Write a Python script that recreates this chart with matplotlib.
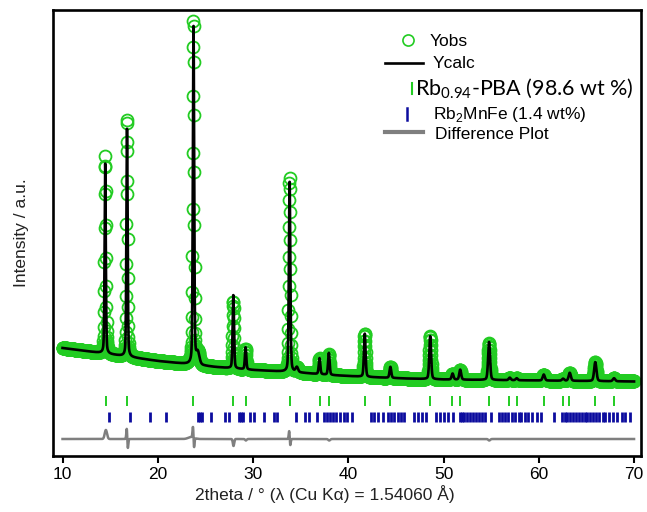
import numpy as np
import matplotlib
matplotlib.use("Agg")
import matplotlib.pyplot as plt
from matplotlib.lines import Line2D

# ---------------- data ----------------
# two-theta range of the measurement
two_theta_start, two_theta_end, two_theta_step = 10.0, 70.0, 0.02

# background level (2theta, intensity a.u.)
bg_x = [10, 14, 20, 23, 26, 30, 34, 38, 42, 46, 50, 55, 60, 65, 70]
bg_y = [108, 103, 95, 92, 89, 86, 84, 81, 79, 77.5, 76.5, 76, 75.5, 75, 74.5]

# calculated reflections: position, height above background, FWHM
peak_pos = [14.48, 16.77, 23.75, 24.2, 27.93, 29.22, 33.84, 34.6, 36.98, 37.96,
            41.73, 44.42, 48.60, 50.95, 51.75, 54.78, 56.95, 57.68, 60.52, 62.55,
            63.25, 65.93, 67.90]
peak_amp = [190, 231, 342, 12, 74, 22, 190, 5, 16, 22,
            43.5, 11, 43, 6, 10, 38, 2.5, 2, 6, 2,
            8, 19, 3]
peak_fwhm = [0.15, 0.15, 0.16, 0.4, 0.17, 0.17, 0.18, 0.3, 0.19, 0.19,
             0.2, 0.21, 0.22, 0.23, 0.23, 0.24, 0.25, 0.25, 0.26, 0.27,
             0.27, 0.28, 0.29]
lorentz_fraction = 0.3

# misfit (Yobs - Ycalc) features: position, symmetric part, antisymmetric part, width
res_pos = [14.55, 16.8, 23.5, 23.75, 27.95, 29.25, 33.85, 38.0, 54.8]
res_sym = [9, 1.0, 2.0, 1.0, -7, -1.5, 1.5, -1.5, -1.5]
res_anti = [0, 9.5, 0, 10.0, 0, 0, 7.0, 0, 0]
res_width = [0.12, 0.06, 0.3, 0.06, 0.07, 0.08, 0.06, 0.1, 0.1]
diff_offset = 17

# Bragg reflection markers
pba_ticks = [14.58, 16.77, 23.75, 27.94, 29.24, 33.84, 36.98, 37.96, 41.73, 44.42,
             48.60, 50.94, 51.75, 54.78, 56.90, 57.68, 60.50, 62.50, 63.20, 65.88,
             67.87]
rb2mnfe_ticks = [14.85, 17.1, 19.2, 20.9, 24.2, 24.4, 24.65, 25.6, 27.1, 27.5,
                 28.5, 28.7, 28.9, 29.7, 30.1, 31.1, 32.2, 32.5, 34.5, 35.5,
                 35.9, 36.7, 37.5, 37.8, 38.1, 38.4, 38.7, 39.1, 39.5, 39.9,
                 40.4, 42.4, 42.7, 43.1, 43.6, 44.2, 44.5, 44.8, 45.2, 45.5,
                 45.9, 46.9, 47.3, 47.7, 48.2, 49.2, 49.6, 50.0, 50.5, 51.0,
                 51.7, 51.9, 52.2, 52.5, 52.8, 53.1, 53.4, 53.7, 54.0, 54.4,
                 55.0, 55.8, 56.1, 56.4, 56.8, 57.2, 57.5, 57.9, 58.1, 58.6,
                 58.9, 59.3, 59.8, 60.2, 61.6, 62.4, 62.7, 63.0, 63.3, 63.6,
                 63.9, 64.2, 64.5, 64.8, 65.1, 65.4, 65.7, 66.0, 66.3, 66.7,
                 67.0, 67.4, 67.8, 68.2, 68.7, 69.1, 69.6]

x_ticks = [10, 20, 30, 40, 50, 60, 70]

# ---------------- profile construction ----------------
tt = np.arange(two_theta_start, two_theta_end + 1e-9, two_theta_step)
ycalc = np.interp(tt, bg_x, bg_y)
for p, a, w in zip(peak_pos, peak_amp, peak_fwhm):
    d = tt - p
    g = np.exp(-4 * np.log(2) * d**2 / w**2)
    l = 1.0 / (1.0 + 4 * d**2 / w**2)
    ycalc = ycalc + a * ((1 - lorentz_fraction) * g + lorentz_fraction * l)

resid = np.zeros_like(tt)
for p, s, a, w in zip(res_pos, res_sym, res_anti, res_width):
    d = (tt - p) / w
    resid += s * np.exp(-0.5 * d**2) + a * (-d) * np.exp(0.5 - 0.5 * d**2)
yobs = ycalc + resid
ydiff = resid + diff_offset

# ---------------- figure ----------------
W, H = 647, 512
fig = plt.figure(figsize=(W / 100, H / 100), dpi=100)
L, R, T, B = 53, 641, 10, 456
ax = fig.add_axes([L / W, 1 - B / H, (R - L) / W, (B - T) / H])

green = "#22cc22"
blue = "#0c0c9e"
grey = "#7f7f7f"

ax.plot(tt, yobs, "o", ms=8.6, mfc="none", mec=green, mew=1.3, zorder=2)
ax.plot(tt, ycalc, "-", color="black", lw=1.9, zorder=3)
ax.vlines(pba_ticks, 50, 60, color=green, lw=1.4, zorder=3)
ax.vlines(rb2mnfe_ticks, 34, 44, color=blue, lw=2.0, zorder=3)
ax.plot(tt, ydiff, "-", color=grey, lw=1.8, zorder=3)

ax.set_xlim(9.0, 70.73)
ax.set_ylim(0, 446)
ax.set_yticks([])
ax.set_xticks(x_ticks)
ax.set_xticklabels([str(v) for v in x_ticks])
for s in ax.spines.values():
    s.set_linewidth(1.9)
ax.tick_params(axis="x", direction="out", length=5, width=1.5, labelsize=12.5,
               pad=3, top=False)
for lab in ax.get_xticklabels():
    lab.set_family("Liberation Sans")

fig.text(22 / W, 1 - 233 / H, "Intensity / a.u.", rotation=90, ha="center",
         va="center", fontsize=12.5, family="Liberation Sans", color="#222222")
fig.text(325 / W, 1 - 500 / H, "2theta / \u00b0 (\u03bb (Cu K\u03b1) = 1.54060 \u00c5)",
         ha="center", va="baseline", fontsize=12.5, family="Liberation Sans",
         color="#222222")

# ---------------- legend (manual) ----------------
def fx(px):
    return px / W

def fy(py):
    return 1 - py / H

fig.add_artist(Line2D([fx(408)], [fy(40)], marker="o", ms=8, mfc="none",
                      mec=green, mew=1.2, transform=fig.transFigure))
fig.text(fx(430), fy(46), "Yobs", fontsize=12.5, family="Liberation Sans", va="baseline")
fig.add_artist(Line2D([fx(385), fx(423)], [fy(63), fy(63)], color="black",
                      lw=1.9, transform=fig.transFigure))
fig.text(fx(433), fy(68), "Ycalc", fontsize=12.5, family="Liberation Sans", va="baseline")
fig.add_artist(Line2D([fx(412), fx(412)], [fy(83), fy(94)], color=green,
                      lw=1.5, transform=fig.transFigure))
fig.text(fx(415), fy(95), r"Rb$_{\mathregular{0.94}}$-PBA (98.6 wt %)", fontsize=15.5,
         family="Lato", va="baseline")
fig.add_artist(Line2D([fx(407), fx(407)], [fy(108), fy(120)], color=blue,
                      lw=1.8, transform=fig.transFigure))
fig.text(fx(433), fy(119), r"Rb$_{\mathregular{2}}$MnFe (1.4 wt%)", fontsize=12.5,
         family="Liberation Sans", va="baseline")
fig.add_artist(Line2D([fx(385), fx(423)], [fy(132), fy(132)], color=grey,
                      lw=3, transform=fig.transFigure))
fig.text(fx(435), fy(139), "Difference Plot", fontsize=12.5, family="Liberation Sans",
         va="baseline")

fig.savefig("out.png", dpi=100)
